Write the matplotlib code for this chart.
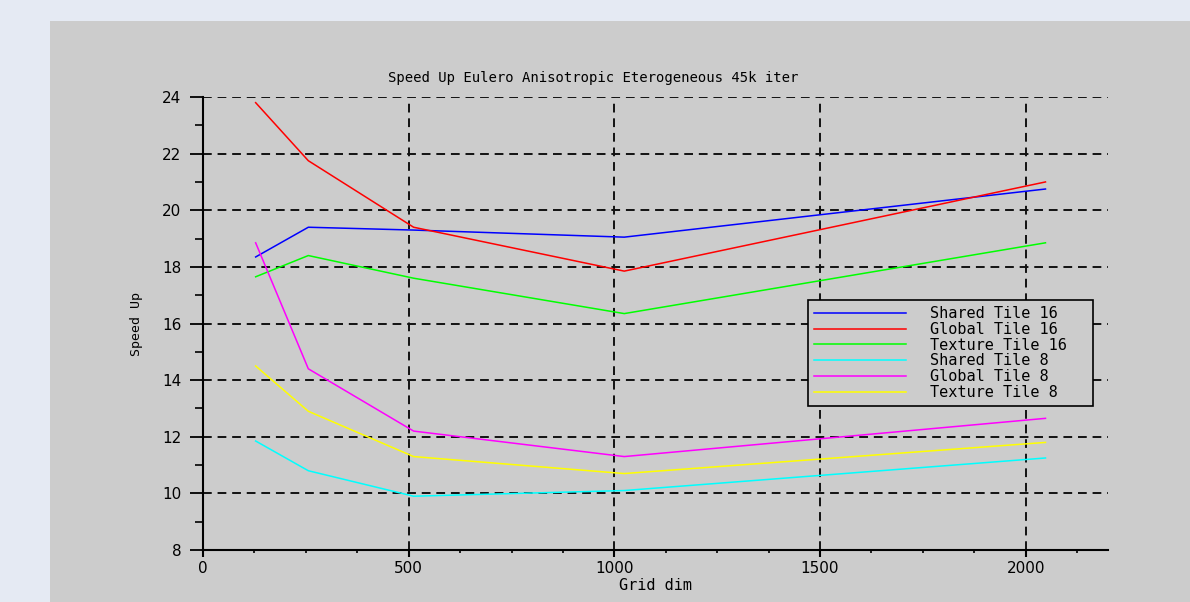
import matplotlib
matplotlib.use('Agg')
import matplotlib.pyplot as plt
from matplotlib.patches import Rectangle
from matplotlib.ticker import MultipleLocator

# grid sizes and speed-up values
grid_dim = [128, 256, 512, 1024, 2048]
shared16 = [18.35, 19.4, 19.3, 19.05, 20.75]
global16 = [23.8, 21.75, 19.4, 17.85, 21.0]
texture16 = [17.65, 18.4, 17.6, 16.35, 18.85]
shared8 = [11.85, 10.8, 9.9, 10.1, 11.25]
global8 = [18.85, 14.4, 12.2, 11.3, 12.65]
texture8 = [14.5, 12.9, 11.3, 10.7, 11.8]

labels = ['Shared Tile 16', 'Global Tile 16', 'Texture Tile 16',
          'Shared Tile 8', 'Global Tile 8', 'Texture Tile 8']
colors = ['#0000ff', '#ff0000', '#00ff00', '#00ffff', '#ff00ff', '#ffff00']
series = [shared16, global16, texture16, shared8, global8, texture8]

plt.rcParams['font.family'] = ['DejaVu Sans']
mono = 'DejaVu Sans Mono'

fig = plt.figure(figsize=(11.9, 6.02), dpi=100)
fig.patch.set_facecolor('#e5eaf3')
# grey panel behind the chart
fig.patches.append(Rectangle((50 / 1190, 0), 1 - 50 / 1190, 1 - 21 / 602,
                             transform=fig.transFigure, facecolor='#cccccc',
                             edgecolor='none', zorder=-10))

ax = fig.add_axes([203 / 1190, 1 - 550 / 602, 905 / 1190, 453 / 602])
ax.set_facecolor('#cccccc')

for y, lab, c in zip(series, labels, colors):
    ax.plot(grid_dim, y, color=c, lw=1.1, label=lab, zorder=3)

ax.set_xlim(0, 2200)
ax.set_ylim(8, 24)
ax.xaxis.set_major_locator(MultipleLocator(500))
ax.xaxis.set_minor_locator(MultipleLocator(125))
ax.yaxis.set_major_locator(MultipleLocator(2))
ax.yaxis.set_minor_locator(MultipleLocator(1))

for s in ['top', 'right']:
    ax.spines[s].set_visible(False)
for s in ['left', 'bottom']:
    ax.spines[s].set_linewidth(1.5)
    ax.spines[s].set_color('black')

ax.tick_params(axis='y', which='major', length=9.5, width=1.3, direction='out', labelsize=11, pad=6)
ax.tick_params(axis='y', which='minor', length=6, width=1.2, direction='out')
ax.tick_params(axis='x', which='major', length=5, width=1.5, direction='out', labelsize=11, pad=3)
ax.tick_params(axis='x', which='minor', length=2.5, width=1.2, direction='out')

ax.grid(True, which='major', color='#111111', linestyle=(0, (4.5, 3)), lw=1.4, zorder=1)

fig.text(593 / 1190, 1 - 78 / 602, 'Speed Up Eulero Anisotropic Eterogeneous 45k iter',
         family=mono, fontsize=10, ha='center', va='center')
ax.set_xlabel('Grid dim', family=mono, fontsize=11, labelpad=1)
ax.set_ylabel('Speed Up', family=mono, fontsize=9.5, labelpad=14)

leg = ax.legend(loc='upper left',
                bbox_to_anchor=(605 / 905, 250 / 453 - 0.01, 285 / 905, 0.01),
                mode='expand',
                prop={'family': mono, 'size': 11}, frameon=True, fancybox=False,
                facecolor='#cccccc', edgecolor='black', framealpha=1,
                handlelength=6.0, handletextpad=1.6, labelspacing=0.05,
                borderpad=0.4, borderaxespad=0)
leg.get_frame().set_linewidth(1.2)
leg.set_zorder(5)

fig.savefig('out.png', dpi=100, facecolor=fig.get_facecolor())
